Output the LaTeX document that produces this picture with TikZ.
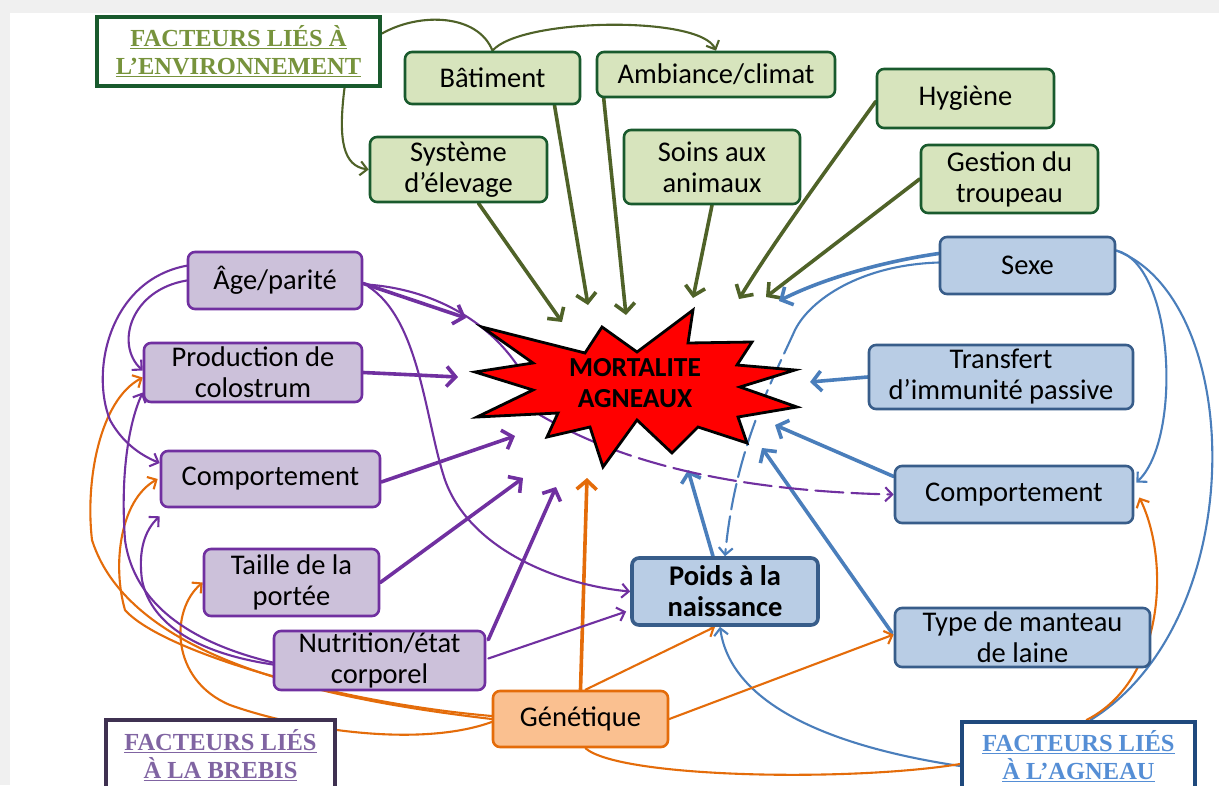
\documentclass[tikz,border=0pt]{standalone}
\usepackage{fontspec}
\setmainfont{Carlito}
\newfontfamily\hfont{Liberation Serif}
\usetikzlibrary{arrows.meta,calc,backgrounds}
\definecolor{gfill}{RGB}{215,228,189}
\definecolor{gdraw}{RGB}{25,90,45}
\definecolor{glinec}{RGB}{79,98,40}
\definecolor{bfill}{RGB}{185,205,229}
\definecolor{bdraw}{RGB}{56,93,138}
\definecolor{blinec}{RGB}{74,126,187}
\definecolor{pfill}{RGB}{204,193,218}
\definecolor{pdraw}{RGB}{112,48,160}
\definecolor{ofill}{RGB}{250,192,144}
\definecolor{odraw}{RGB}{228,108,10}
\definecolor{envtext}{RGB}{119,147,60}
\definecolor{brebtext}{RGB}{128,100,162}
\definecolor{brebdraw}{RGB}{63,49,81}
\definecolor{agntext}{RGB}{85,142,213}
\definecolor{agndraw}{RGB}{31,73,125}
\newcommand\boxfnt{\fontsize{28.5}{31}\selectfont}
\newcommand\starfnt{\fontsize{27.5}{31}\selectfont\bfseries}
\newcommand\hdrfnt{\hfont\bfseries\fontsize{24.5}{28}\selectfont}
\begin{document}
\begin{tikzpicture}[x=1pt,y=-1pt,
  box/.style={draw, rounded corners=7pt, line width=2.6pt, align=center, inner sep=0pt, font=\boxfnt},
  gbox/.style={box, draw=gdraw, fill=gfill},
  bbox/.style={box, draw=bdraw, fill=bfill},
  pbox/.style={box, draw=pdraw, fill=pfill},
  obox/.style={box, draw=odraw, fill=ofill},
  hdr/.style={draw, fill=white, line width=4pt, align=center, inner sep=0pt, font=\hdrfnt},
  thk/.style={line width=3.6pt, line cap=round, -{Straight Barb[length=9pt,width=20pt]}},
  thn/.style={line width=2.1pt, line cap=round, -{Straight Barb[length=7pt,width=14pt]}},
  gthick/.style={thk, draw=glinec}, gthin/.style={thn, draw=glinec},
  bthick/.style={thk, draw=blinec}, bthin/.style={thn, draw=blinec},
  pthick/.style={thk, draw=pdraw}, pthin/.style={thn, draw=pdraw},
  othick/.style={thk, draw=odraw}, othin/.style={thn, draw=odraw},
  plainline/.style={-}
]
\useasboundingbox (0,0) rectangle (1219,785);

% environment factors
\node[hdr, draw=gdraw, text=envtext, minimum width=283pt, minimum height=69pt] (env) at (238.5,51.5) {\underline{FACTEURS LIÉS À}\\\underline{L’ENVIRONNEMENT}};
\node[gbox, minimum width=175pt, minimum height=52pt] (bat) at (492.5,78) {Bâtiment};
\node[gbox, minimum width=238pt, minimum height=45pt] (amb) at (716,74.5) {Ambiance/climat};
\node[gbox, minimum width=177pt, minimum height=65pt] (sys) at (458.5,169.5) {Système\\d’élevage};
\node[gbox, minimum width=176pt, minimum height=74pt] (soins) at (712,167) {Soins aux\\animaux};
\node[gbox, minimum width=177pt, minimum height=59pt] (hyg) at (965.5,98.5) {Hygiène};
\node[gbox, minimum width=177pt, minimum height=68pt] (gest) at (1009.5,179) {Gestion du\\troupeau};

% lamb factors
\node[bbox, minimum width=175pt, minimum height=57pt] (sexe) at (1027.5,265.5) {Sexe};
\node[bbox, minimum width=264pt, minimum height=64pt] (transf) at (1001,377) {Transfert\\d’immunité passive};
\node[bbox, minimum width=238pt, minimum height=57pt] (bcomp) at (1014,494.5) {Comportement};
\node[bbox, minimum width=255pt, minimum height=59pt] (manteau) at (1022.5,637.5) {Type de manteau\\de laine};
\node[bbox, line width=3.6pt, minimum width=186pt, minimum height=67pt, font=\boxfnt\bfseries] (poids) at (725,591.5) {Poids à la\\naissance};
\node[hdr, draw=agndraw, text=agntext, minimum width=233pt, minimum height=68pt] (hagn) at (1078.5,756) {\underline{FACTEURS LIÉS}\\\underline{À L’AGNEAU}};

% ewe factors
\node[pbox, minimum width=174pt, minimum height=57pt] (age) at (275,280.5) {Âge/parité};
\node[pbox, minimum width=218pt, minimum height=59pt] (colos) at (253,372.5) {Production de\\colostrum};
\node[pbox, minimum width=219pt, minimum height=56pt] (pcomp) at (270.5,479) {Comportement};
\node[pbox, minimum width=175pt, minimum height=67pt] (taille) at (291.5,582.5) {Taille de la\\portée};
\node[pbox, minimum width=211pt, minimum height=59pt] (nutri) at (379.5,660.5) {Nutrition/état\\corporel};
\node[hdr, draw=brebdraw, text=brebtext, minimum width=229pt, minimum height=70pt] (hbreb) at (220.5,755) {\underline{FACTEURS LIÉS}\\\underline{À LA BREBIS}};

\node[obox, minimum width=175pt, minimum height=56pt] (gen) at (580.5,719) {Génétique};

% star
\draw[fill=red, draw=black, line width=2.8pt, line join=miter, miter limit=20]
  (482,327) -- (585,353) -- (602,327) -- (637,352) -- (693,310) -- (688,343) -- (752,342) -- (737,365)
  -- (795,370) -- (740,387) -- (797,407) -- (738,417) -- (747,443) -- (698,427) -- (672,453)
  -- (637,420) -- (603,467) -- (590,427) -- (547,437) -- (558,413) -- (477,417) -- (533,390)
  -- (475,372) -- (533,363) -- cycle;
\node[font=\starfnt, align=center, inner sep=0pt] (mort) at (635,383) {MORTALITE\\AGNEAUX};

% arrow tips near the star
\coordinate (tSys) at (562,322);
\coordinate (tBat) at (588,305);
\coordinate (tAmb) at (626,315);
\coordinate (tSoins) at (693,298);
\coordinate (tHyg) at (739,299);
\coordinate (tGest) at (766,297);
\coordinate (tSexe) at (779,301);
\coordinate (tTransf) at (810,382);
\coordinate (tBcomp) at (775,425);
\coordinate (tMant) at (762,448);
\coordinate (tPoids) at (688,470);
\coordinate (tGen) at (587,478);
\coordinate (tAge) at (466,318);
\coordinate (tColos) at (458,377);
\coordinate (tPcomp) at (515,436);
\coordinate (tTaille) at (523,478);
\coordinate (tNutri) at (556,487);
\coordinate (dm) at (540,415);
\coordinate (sm) at (795,330);

\begin{scope}[on background layer]
\fill[gray!12] (0,0) rectangle (1219,785);
\fill[white] (10,13) rectangle (1219,785);

% green
\draw[gthin, plainline] ($(env.east)+(0,-18)$) .. controls (420,12) and (478,14) .. (bat.north);
\draw[gthin] (bat.north) .. controls (520,18) and (700,15) .. (amb.north);
\draw[gthin] ($(env.south)+(106,0)$) .. controls (338,140) and (343,166) .. (sys.west);
\draw[gthick] ($(sys.south)+(20,0)$) -- (tSys);
\draw[gthick] ($(bat.south)+(62,0)$) -- (tBat);
\draw[gthick] ($(amb.south west)+(8,0)$) -- (tAmb);
\draw[gthick] (soins.south) -- (tSoins);
\draw[gthick] ($(hyg.west)+(0,3)$) .. controls (830,165) and (775,240) .. (tHyg);
\draw[gthick] (gest.west) -- (tGest);

% blue
\draw[bthick] ($(sexe.west)+(0,-12)$) .. controls (880,262) and (820,280) .. (tSexe);
\draw[bthin, plainline] ($(sexe.west)+(0,-3)$) .. controls (860,265) and (810,300) .. (sm);
\draw[bthin, dash pattern=on 26pt off 7pt] (sm) .. controls (770,385) and (735,450) .. (poids.north);
\draw[bthick] (transf.west) -- (tTransf);
\draw[bthick] ($(bcomp.west)+(0,-18)$) -- (tBcomp);
\draw[bthick] ($(manteau.west)+(-2,-5)$) -- (tMant);
\draw[bthick] ($(poids.north)+(-12,0)$) -- (tPoids);
\draw[bthin] ($(sexe.east)+(0,-15)$) .. controls (1175,265) and (1182,440) .. ($(bcomp.east)+(2,-12)$);
\draw[bthin, plainline] ($(sexe.east)+(0,-15)$) .. controls (1245,300) and (1252,620) .. ($(hagn.north)+(12,0)$);
\draw[bthin] ($(hagn.west)+(0,10)$) .. controls (820,745) and (730,700) .. ($(poids.south)+(-5,0)$);

% orange
\draw[othick] (gen.north) -- (tGen);
\draw[othin] ($(gen.north)+(5,0)$) -- ($(poids.south)+(-10,0)$);
\draw[othin] (gen.east) -- ($(manteau.west)+(0,-3)$);
\draw[othin, plainline] ($(gen.south)+(5,0)$) .. controls (620,778) and (850,782) .. ($(hagn.west)+(0,8)$);
\draw[othin] ($(hagn.north)+(8,0)$) .. controls (1165,680) and (1170,560) .. ($(bcomp.east)+(5,3)$);
\draw[othin] (gen.west) .. controls (330,700) and (130,660) .. (92,540) .. controls (85,480) and (100,400) .. ($(colos.west)+(0,5)$);
\draw[othin] ($(gen.west)+(0,-3)$) .. controls (330,702) and (160,650) .. (125,610) .. controls (112,565) and (120,500) .. ($(pcomp.west)+(-2,0)$);
\draw[othin] ($(gen.west)+(0,3)$) .. controls (420,748) and (300,730) .. (230,705) .. controls (170,680) and (170,610) .. (taille.west);

% purple
\draw[pthick] ($(age.east)+(0,3)$) -- (tAge);
\draw[pthin, plainline] ($(age.east)+(3,4)$) .. controls (450,290) and (520,340) .. (dm);
\draw[pthin, dash pattern=on 28pt off 8pt] (dm) .. controls (600,450) and (700,490) .. (bcomp.west);
\draw[pthin] ($(age.east)+(5,6)$) .. controls (420,320) and (425,420) .. (445,480) .. controls (470,550) and (560,585) .. (poids.west);
\draw[pthick] (colos.east) -- (tColos);
\draw[pthick] ($(pcomp.east)+(0,3)$) -- (tPcomp);
\draw[pthick] (taille.east) -- (tTaille);
\draw[pthick] ($(nutri.north east)+(2,10)$) -- (tNutri);
\draw[pthin] ($(nutri.east)+(2,-2)$) -- ($(poids.west)+(-4,20)$);
\draw[pthin] ($(age.north west)+(0,15)$) .. controls (110,280) and (90,370) .. (110,420) .. controls (122,442) and (140,455) .. ($(pcomp.west)+(0,-16)$);
\draw[pthin] (age.west) .. controls (130,290) and (115,345) .. ($(colos.west)+(0,-2)$);
\draw[pthin] ($(nutri.west)+(0,2)$) .. controls (200,645) and (135,610) .. (125,540) .. controls (120,470) and (130,420) .. ($(colos.west)+(0,20)$);
\draw[pthin] ($(nutri.west)+(0,4)$) .. controls (190,652) and (150,620) .. (142,580) .. controls (138,550) and (145,530) .. ($(pcomp.south west)+(0,8)$);
\end{scope}
\end{tikzpicture}
\end{document}
